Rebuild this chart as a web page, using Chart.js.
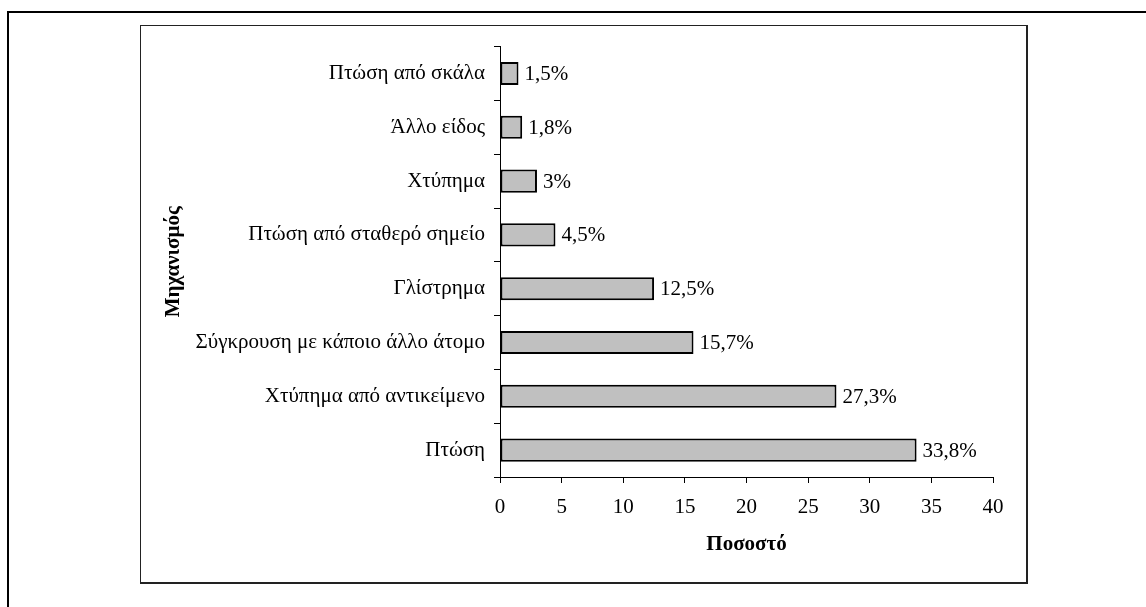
<!DOCTYPE html>
<html>
<head>
<meta charset="utf-8">
<script src="https://cdn.jsdelivr.net/npm/chart.js@4"></script>
<style>
  html, body { margin: 0; padding: 0; background: #fff; overflow: hidden; }
  #outer {
    position: absolute; left: 7px; top: 11px; width: 1300px; height: 800px;
    border: 2px solid #000; box-sizing: border-box;
  }
  #inner {
    position: absolute; left: 140px; top: 25px; width: 888px; height: 559px;
    border: 1px solid #222; border-right-width: 2px; border-bottom-width: 2px;
    box-sizing: border-box; background: #fff;
  }
  #wrap { position: absolute; left: 140px; top: 25px; width: 887px; height: 558px; }
</style>
</head>
<body>
<div id="outer"></div>
<div id="inner"></div>
<div id="wrap"><canvas id="chart"></canvas></div>
<script>
const categories = [
  'Πτώση από σκάλα',
  'Άλλο είδος',
  'Χτύπημα',
  'Πτώση από σταθερό σημείο',
  'Γλίστρημα',
  'Σύγκρουση με κάποιο άλλο άτομο',
  'Χτύπημα από αντικείμενο',
  'Πτώση'
];
const values = [1.5, 1.8, 3, 4.5, 12.5, 15.7, 27.3, 33.8];
const valueLabels = ['1,5%', '1,8%', '3%', '4,5%', '12,5%', '15,7%', '27,3%', '33,8%'];
const xTicks = [0, 5, 10, 15, 20, 25, 30, 35, 40];

const font = { family: '"Liberation Serif", "Times New Roman", serif', size: 21 };
const boldFont = { family: '"Liberation Serif", "Times New Roman", serif', size: 21, weight: 'bold' };

// draws the "xx,x%" text after each bar
const valueLabelPlugin = {
  id: 'valueLabels',
  afterDatasetsDraw(chart) {
    const ctx = chart.ctx;
    const meta = chart.getDatasetMeta(0);
    ctx.save();
    ctx.font = '21px "Liberation Serif", "Times New Roman", serif';
    ctx.fillStyle = '#000';
    ctx.textAlign = 'left';
    ctx.textBaseline = 'middle';
    meta.data.forEach((bar, i) => {
      ctx.fillText(valueLabels[i], bar.x + 6, bar.y + 1);
    });
    ctx.restore();
  }
};

new Chart(document.getElementById('chart'), {
  type: 'bar',
  data: {
    labels: categories,
    datasets: [{
      data: values,
      backgroundColor: '#c0c0c0',
      borderColor: '#000',
      borderWidth: 2,
      borderSkipped: false,
      barPercentage: 0.43,
      categoryPercentage: 1
    }]
  },
  options: {
    indexAxis: 'y',
    responsive: true,
    maintainAspectRatio: false,
    animation: false,
    layout: { padding: { top: 20, right: 34, left: 0, bottom: 0 } },
    plugins: { legend: { display: false }, tooltip: { enabled: false } },
    scales: {
      x: {
        min: 0,
        max: 40,
        afterBuildTicks: (scale) => { scale.ticks = xTicks.map(v => ({ value: v })); },
        afterFit: (scale) => { scale.height = 106; },
        ticks: { color: '#000', font, padding: 12, maxRotation: 0 },
        grid: { drawOnChartArea: false, drawTicks: true, tickLength: 6, color: '#000' },
        border: { display: true, color: '#000', width: 1 },
        title: { display: true, text: 'Ποσοστό', color: '#000', font: boldFont, padding: { top: 0, bottom: 26 } }
      },
      y: {
        afterFit: (scale) => { scale.width = 360; },
        ticks: { color: '#000', font, padding: 9 },
        grid: { offset: true, drawOnChartArea: false, drawTicks: true, tickLength: 6, color: '#000' },
        border: { display: true, color: '#000', width: 1 },
        title: { display: true, text: 'Μηχανισμός', color: '#000', font: boldFont, padding: { top: 21, bottom: 0 } }
      }
    }
  },
  plugins: [valueLabelPlugin]
});
</script>
</body>
</html>
